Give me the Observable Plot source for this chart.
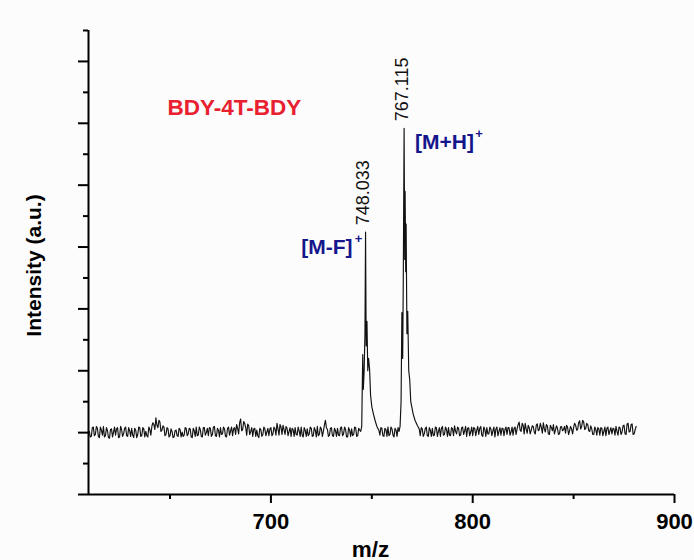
<!DOCTYPE html>
<html><head><meta charset="utf-8">
<script src="https://cdn.jsdelivr.net/npm/d3@7"></script>
<script src="https://cdn.jsdelivr.net/npm/@observablehq/plot@0.6"></script>
<style>
html,body{margin:0;padding:0;background:#fcfcfc;}
#chart svg{display:block;}
</style></head><body><div id="chart"></div>
<script>
// Baseline noise, one value per integer m/z
const baselineLeftStart = 610;
const baselineLeft = [
  0.02,-0.06,0.09,-0.03,0.07,-0.08,0.04,0.10,-0.05,0.03,
  -0.09,0.06,0.01,-0.04,0.08,-0.07,0.05,-0.02,0.09,-0.06,
  0.03,0.07,-0.08,0.04,-0.03,0.08,-0.05,0.06,0.02,-0.07,
  0.05,0.10,0.13,0.24,0.08,0.17,0.04,0.09,-0.03,0.06,
  -0.05,0.02,-0.07,0.04,-0.06,0.05,0.01,-0.04,0.07,-0.02,
  0.06,-0.08,0.03,0.09,-0.04,0.05,-0.07,0.08,0.00,-0.05,
  0.07,-0.03,0.10,-0.06,0.04,0.08,-0.02,0.06,-0.07,0.09,
  0.03,-0.05,0.08,0.13,-0.02,0.22,0.05,0.15,-0.04,0.11,
  0.02,-0.06,0.07,0.04,-0.08,0.05,-0.03,0.06,0.01,-0.05,
  0.08,-0.02,0.06,0.15,-0.04,0.09,0.12,-0.03,0.07,0.02,
  -0.06,0.05,0.08,-0.04,0.03,0.09,-0.07,0.04,0.06,-0.02,
  0.07,-0.05,0.04,0.10,-0.03,0.06,0.02,0.20,0.05,-0.04,
  0.08,-0.06,0.03,0.07,-0.05,0.09,-0.02,0.05,-0.07,0.04,
  0.06,-0.03,0.08,-0.05,0.04
];
// Baseline noise at the half-integer m/z in between
const baselineLeftHalfStart = 610.5;
const baselineLeftHalf = [
  -0.07,0.08,-0.05,0.10,-0.06,0.09,-0.04,-0.07,0.08,-0.08,
  0.05,-0.07,0.09,0.06,-0.08,0.10,-0.06,0.07,-0.05,0.08,
  -0.06,-0.04,0.07,-0.08,0.09,-0.06,0.08,-0.07,-0.05,0.09,
  -0.04,0.16,0.05,0.12,0.20,0.02,0.11,-0.05,0.08,-0.07,
  0.06,-0.08,0.03,-0.05,0.07,-0.07,-0.06,0.08,-0.05,0.07,
  -0.07,0.07,-0.06,-0.05,0.09,-0.06,0.08,-0.04,0.07,0.08,
  -0.06,0.09,-0.05,0.07,-0.07,-0.03,0.09,-0.06,0.07,-0.04,
  0.09,0.06,-0.03,0.07,0.16,0.03,0.18,0.08,0.14,-0.03,
  0.08,0.06,-0.06,-0.05,0.07,-0.06,0.09,-0.05,0.07,0.06,
  -0.05,0.09,-0.04,0.06,0.13,-0.03,0.05,0.10,-0.05,0.08,
  0.07,-0.06,-0.03,0.09,-0.06,-0.04,0.08,-0.06,-0.05,0.09,
  -0.06,0.08,-0.07,-0.05,0.09,-0.06,0.12,0.08,-0.06,0.07,
  -0.05,0.07,-0.06,-0.04,0.08,-0.05,0.09,-0.07,0.08,-0.06,
  -0.05,0.09,-0.06,0.07
];
const baselineMidStart = 754;
const baselineMid = [-0.04,0.07,-0.06,0.05,0.09,-0.03,0.06,-0.07,0.04,0.08];
const baselineMidHalfStart = 754.5;
const baselineMidHalf = [0.08,-0.05,0.07,-0.06,-0.05,0.09,-0.04,0.07,-0.06];
const baselineRightStart = 774;
const baselineRight = [
  -0.05,0.06,-0.02,0.09,-0.06,0.04,
  0.07,-0.04,0.08,0.02,-0.06,0.10,-0.03,0.05,0.08,-0.05,
  0.06,0.11,-0.02,0.07,-0.04,0.09,0.03,-0.06,0.08,0.01,
  -0.05,0.07,0.04,-0.03,0.10,-0.06,0.05,0.08,-0.02,0.06,
  0.03,-0.07,0.09,0.02,-0.04,0.07,0.05,-0.03,0.08,0.01,
  -0.04,0.09,0.06,0.17,0.02,0.12,0.15,-0.01,0.08,0.04,
  0.10,-0.02,0.14,0.05,0.09,0.16,0.01,0.11,-0.03,0.08,
  0.13,0.04,0.07,-0.02,0.10,0.05,-0.01,0.09,0.03,0.06,
  0.08,0.12,0.05,0.19,0.10,0.17,0.07,0.13,0.02,0.06,
  -0.03,0.05,0.08,-0.04,0.07,0.02,-0.05,0.09,0.03,-0.02,
  0.06,0.10,-0.04,0.08,0.01,0.12,-0.03,0.15,0.02,0.14,
  -0.02,0.10
];
const baselineRightHalfStart = 774.5;
const baselineRightHalf = [
  0.08,-0.06,0.07,-0.05,0.08,-0.06,
  -0.05,0.09,-0.06,0.08,0.07,-0.04,0.09,-0.06,-0.04,0.08,
  -0.05,0.02,0.09,-0.05,0.08,-0.03,0.10,0.07,-0.05,0.09,
  0.08,-0.05,0.10,0.07,-0.04,0.09,-0.06,-0.02,0.09,-0.05,
  0.09,0.06,-0.05,0.08,0.07,-0.05,0.09,0.08,-0.04,0.09,
  0.07,-0.03,0.13,0.04,0.15,-0.02,0.06,0.12,-0.02,0.11,
  0.01,0.12,0.03,0.15,-0.01,0.06,0.13,-0.02,0.12,0.03,
  -0.02,0.11,-0.03,0.09,0.03,0.10,0.12,-0.03,0.10,-0.02,
  0.15,0.04,0.16,0.06,0.20,0.05,0.15,0.03,0.11,-0.03,
  0.09,-0.04,0.06,0.08,-0.05,0.09,0.07,-0.03,0.08,0.07,
  -0.04,0.02,0.09,-0.03,0.11,-0.02,0.14,0.01,0.13,-0.03,
  0.05
];

// [M-F]+ isotope cluster
const peakMFmz  = [744.5,745.0,745.5,745.8,746.2,746.6,746.9,747.2,747.6,748.0,748.4,748.9,749.4,750.0,750.8,751.6,752.5,753.5];
const peakMFint = [0.02, 0.10, 1.26, 0.70, 1.00, 1.60, 3.24, 1.40, 1.80, 1.00, 1.20, 1.02, 0.60, 0.42, 0.30, 0.20, 0.10, 0.04];
// [M+H]+ isotope cluster
const peakMHmz  = [763.5,764.0,764.5,764.9,765.3,765.6,766.0,766.3,766.5,766.8,767.0,767.4,767.8,768.3,768.8,769.3,769.8,770.5,771.4,772.5,773.5];
const peakMHint = [0.02, 0.10, 0.50, 1.94, 1.20, 2.50, 4.92, 2.80, 3.90, 2.60, 3.37, 1.60, 1.96, 1.00, 0.85, 0.50, 0.42, 0.30, 0.20, 0.12, 0.06];

const peakValueLabels = ["748.033", "767.115"];
const ionLabels = ["[M-F]", "[M+H]"];
const compoundName = "BDY-4T-BDY";
const xMajorTicks = [700, 800, 900];
const xMinorTicks = [650, 750, 850];
const yMajorTicks = [-1, 0, 1, 2, 3, 4, 5, 6];
const yMinorTicks = [-0.5, 0.5, 1.5, 2.5, 3.5, 4.5, 5.5, 6.5];

// build spectrum table
const spectrum = [];
function addSeries(start, values) {
  values.forEach((v, i) => spectrum.push({mz: start + i, I: v}));
}
addSeries(baselineLeftStart, baselineLeft);
addSeries(baselineLeftHalfStart, baselineLeftHalf);
addSeries(baselineMidStart, baselineMid);
addSeries(baselineMidHalfStart, baselineMidHalf);
addSeries(baselineRightStart, baselineRight);
addSeries(baselineRightHalfStart, baselineRightHalf);
peakMFmz.forEach((m, i) => spectrum.push({mz: m, I: peakMFint[i]}));
peakMHmz.forEach((m, i) => spectrum.push({mz: m, I: peakMHint[i]}));
spectrum.sort((a, b) => a.mz - b.mz);

function apex(mzs, ints) {
  const i = d3.maxIndex(ints);
  return {mz: mzs[i], I: ints[i]};
}
const apexMF = {...apex(peakMFmz, peakMFint), value: peakValueLabels[0], ion: ionLabels[0]};
const apexMH = {...apex(peakMHmz, peakMHint), value: peakValueLabels[1], ion: ionLabels[1]};

const font = "'Liberation Sans', Arial, Helvetica, sans-serif";
const navy = "#16168c";
const red = "#e8202f";

const chart = Plot.plot({
  width: 694,
  height: 560,
  marginLeft: 88,
  marginRight: 20,
  marginTop: 30,
  marginBottom: 66,
  style: {fontFamily: font, background: "#fcfcfc", overflow: "visible"},
  x: {domain: [609.6, 900]},
  y: {domain: [-1, 6.5]},
  marks: [
    Plot.axisX({ticks: xMajorTicks, tickSize: 9, tickPadding: 10, strokeWidth: 2, fontSize: 22, fontWeight: "bold", fill: "#000", tickFormat: d => String(d), label: null}),
    Plot.axisX({ticks: xMinorTicks, tickSize: 5, strokeWidth: 2, tickFormat: () => "", label: null}),
    Plot.axisY({ticks: yMajorTicks, tickSize: 10, strokeWidth: 2, tickFormat: () => "", label: null}),
    Plot.axisY({ticks: yMinorTicks, tickSize: 5, strokeWidth: 2, tickFormat: () => "", label: null}),
    Plot.ruleY([-1], {stroke: "#000", strokeWidth: 2}),
    Plot.ruleX([609.6], {stroke: "#000", strokeWidth: 2}),
    Plot.line(spectrum, {x: "mz", y: "I", stroke: "#111", strokeWidth: 1.15}),
    // peak m/z values
    Plot.text([apexMF, apexMH], {x: "mz", y: "I", text: "value", rotate: -90, textAnchor: "start", lineAnchor: "middle", dx: -2, dy: -7, fontSize: 18, fill: "#111"}),
    // ion labels
    Plot.text([apexMH], {x: "mz", y: "I", text: "ion", textAnchor: "start", lineAnchor: "middle", dx: 11, dy: 14, fontSize: 21, fontWeight: "bold", fill: navy}),
    Plot.text([apexMH], {x: "mz", y: "I", text: () => "+", textAnchor: "middle", lineAnchor: "middle", dx: 75, dy: 6, fontSize: 13, fontWeight: "bold", fill: navy}),
    Plot.text([apexMF], {x: "mz", y: "I", text: "ion", textAnchor: "end", lineAnchor: "middle", dx: -13, dy: 15, fontSize: 21, fontWeight: "bold", fill: navy}),
    Plot.text([apexMF], {x: "mz", y: "I", text: () => "+", textAnchor: "middle", lineAnchor: "middle", dx: -7, dy: 7, fontSize: 13, fontWeight: "bold", fill: navy}),
    // compound name
    Plot.text([compoundName], {frameAnchor: "top-left", text: d => d, textAnchor: "start", lineAnchor: "middle", dx: 79, dy: 77, fontSize: 22.5, fontWeight: "bold", fill: red}),
    // axis titles
    Plot.text(["Intensity (a.u.)"], {frameAnchor: "left", text: d => d, rotate: -90, textAnchor: "middle", lineAnchor: "middle", dx: -54, dy: 3, fontSize: 21, fontWeight: "bold", fill: "#000"}),
    Plot.text(["m/z"], {frameAnchor: "bottom", text: d => d, textAnchor: "middle", lineAnchor: "bottom", dx: -11, dy: 62, fontSize: 22.5, fontWeight: "bold", fill: "#000"})
  ]
});
document.getElementById("chart").appendChild(chart);
</script>
</body></html>
